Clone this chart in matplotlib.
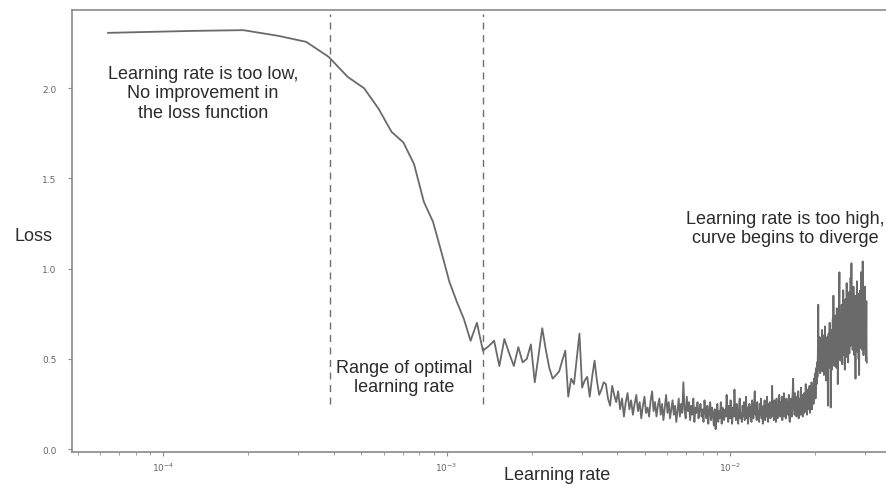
import numpy as np
import matplotlib
matplotlib.use("Agg")
import matplotlib.pyplot as plt

# learning rate grows linearly per batch: lr = lr_step * batch
lr_step = 6.4e-5

# loss per batch
loss = [
    2.307, 2.318, 2.322, 2.29, 2.257, 2.174, 2.063, 2.0, 1.886, 1.758,
    1.70, 1.58, 1.37, 1.26, 1.09, 0.926, 0.815, 0.72, 0.60, 0.70,
    0.545,
    # 22-67
    0.57, 0.60, 0.46, 0.61, 0.53, 0.46, 0.565, 0.48, 0.50, 0.58,
    0.37, 0.52, 0.67, 0.55, 0.45, 0.39, 0.41, 0.43, 0.49, 0.545,
    0.29, 0.39, 0.36, 0.50, 0.64, 0.34, 0.38, 0.40, 0.29, 0.40,
    0.49, 0.38, 0.30, 0.33, 0.37, 0.36, 0.28, 0.24, 0.35, 0.30,
    0.26, 0.32, 0.22, 0.28, 0.18, 0.26,
    # 68-82
    0.31, 0.22, 0.27, 0.19, 0.25, 0.30, 0.21, 0.26, 0.17, 0.24,
    0.29, 0.20, 0.23, 0.18, 0.27,
    # 83-122
    0.32, 0.21, 0.26, 0.18, 0.24, 0.28, 0.19, 0.25, 0.16, 0.23,
    0.30, 0.20, 0.26, 0.17, 0.22, 0.27, 0.19, 0.24, 0.15, 0.21,
    0.28, 0.18, 0.25, 0.20, 0.37, 0.22, 0.17, 0.29, 0.21, 0.26,
    0.16, 0.24, 0.19, 0.28, 0.15, 0.23, 0.20, 0.26, 0.17, 0.22,
    # 123-183
    0.25, 0.18, 0.22, 0.15, 0.27, 0.20, 0.17, 0.24, 0.14, 0.21,
    0.26, 0.16, 0.23, 0.19, 0.13, 0.22, 0.11, 0.20, 0.25, 0.15,
    0.21, 0.17, 0.26, 0.14, 0.23, 0.19, 0.16, 0.22, 0.18, 0.30,
    0.20, 0.15, 0.24, 0.17, 0.27, 0.19, 0.14, 0.23, 0.18, 0.33,
    0.21, 0.16, 0.25, 0.19, 0.14, 0.22, 0.28, 0.17, 0.20, 0.15,
    0.24, 0.18, 0.26, 0.16, 0.21, 0.29, 0.17, 0.23, 0.14, 0.20,
    0.25,
    # 184-234
    0.18, 0.23, 0.15, 0.27, 0.20, 0.17, 0.24, 0.32, 0.19, 0.22,
    0.16, 0.26, 0.18, 0.21, 0.15, 0.25, 0.19, 0.28, 0.17, 0.22,
    0.14, 0.24, 0.20, 0.27, 0.16, 0.23, 0.18, 0.29, 0.21, 0.15,
    0.25, 0.19, 0.26, 0.17, 0.22, 0.18, 0.35, 0.20, 0.24, 0.16,
    0.27, 0.19, 0.23, 0.15, 0.28, 0.21, 0.17, 0.25, 0.19, 0.30,
    0.22,
    # 235-316
    0.18, 0.26, 0.20, 0.29, 0.16, 0.24, 0.21, 0.31, 0.18, 0.25,
    0.22, 0.17, 0.28, 0.20, 0.26, 0.19, 0.23, 0.30, 0.17, 0.15,
    0.24, 0.20, 0.28, 0.18, 0.25, 0.33, 0.39, 0.22, 0.27, 0.19,
    0.31, 0.21, 0.26, 0.18, 0.29, 0.23, 0.20, 0.32, 0.17, 0.25,
    0.22, 0.28, 0.19, 0.34, 0.24, 0.21, 0.30, 0.18, 0.26, 0.23,
    0.31, 0.20, 0.27, 0.24, 0.36, 0.21, 0.28, 0.19, 0.25, 0.33,
    0.22, 0.29, 0.26, 0.35, 0.20, 0.27, 0.31, 0.24, 0.37, 0.22,
    0.30, 0.27, 0.34, 0.25, 0.39, 0.29, 0.33, 0.42, 0.28, 0.38,
    0.45, 0.36,
    # 317-475
    0.48, 0.40, 0.55, 0.80, 0.44, 0.58, 0.47, 0.62, 0.42, 0.53,
    0.60, 0.45, 0.52, 0.66, 0.43, 0.57, 0.49, 0.63, 0.41, 0.55,
    0.50, 0.68, 0.46, 0.59, 0.38, 0.54, 0.62, 0.47, 0.56, 0.24,
    0.52, 0.64, 0.45, 0.58, 0.70, 0.48, 0.55, 0.23, 0.61, 0.50,
    0.66, 0.44, 0.57, 0.72, 0.49, 0.85, 0.53, 0.60, 0.46, 0.68,
    0.55, 0.74, 0.50, 0.62, 0.45, 0.78, 0.57, 0.64, 0.36, 0.59,
    0.70, 0.52, 0.82, 0.98, 0.58, 0.66, 0.49, 0.75, 0.61, 0.54,
    0.80, 0.63, 0.47, 0.71, 0.57, 0.88, 0.52, 0.68, 0.60, 0.76,
    0.44, 0.65, 0.83, 0.58, 0.70, 0.51, 0.92, 0.62, 0.55, 0.74,
    0.66, 0.48, 0.79, 0.60, 0.87, 0.53, 0.71, 0.64, 0.57, 0.95,
    0.62, 0.76, 1.03, 0.58, 0.69, 0.82, 0.55, 0.73, 0.64, 0.90,
    0.60, 0.78, 0.52, 0.68, 0.85, 0.57, 0.39, 0.72, 0.63, 0.80,
    0.58, 0.93, 0.66, 0.54, 0.75, 0.61, 0.86, 0.50, 0.70, 0.41,
    0.64, 0.79, 0.56, 0.88, 0.62, 0.73, 0.98, 0.59, 0.67, 0.81,
    0.55, 0.72, 1.04, 0.61, 0.76, 0.52, 0.68, 0.84, 0.58, 0.74,
    0.63, 0.90, 0.56, 0.70, 0.49, 0.66, 0.82, 0.52, 0.48,
]
lr = lr_step * np.arange(1, len(loss) + 1)

# range of optimal learning rate
lr_bounds = [3.88e-4, 1.34e-3]

yticks = [0.0, 0.5, 1.0, 1.5, 2.0]

fig = plt.figure(figsize=(8.87, 4.89), dpi=100)
ax = fig.add_axes([0.0812, 0.0736, 0.939, 0.904])

ax.plot(lr, loss, color="#6a6a6a", lw=1.3)
ax.vlines(lr_bounds, 0.25, 2.41, colors="#707070", linestyles=(0, (5, 4)), lw=1.0)

ax.set_xscale("log")
ax.set_xlim(10 ** -4.321, 10 ** -1.383)
ax.set_ylim(-0.0166, 2.434)
ax.set_yticks(yticks)
ax.set_yticklabels([f"{v:.1f}" for v in yticks])

for s in ax.spines.values():
    s.set_color("#8a8a8a")
    s.set_linewidth(1.2)
ax.tick_params(axis="both", which="both", colors="#8a8a8a", labelcolor="#666666",
               labelsize=6.5, length=3)
ax.tick_params(axis="y", pad=8)
ax.tick_params(axis="x", which="minor", length=2)

font = "Liberation Sans"
tc = "#2b2b2b"
fig.text(557 / 887, 1 - 476 / 489, "Learning rate", ha="center", va="center",
         fontsize=13, family=font, color=tc)
fig.text(34 / 887, 1 - 237 / 489, "Loss", ha="center", va="center",
         fontsize=13, family=font, color=tc)

fig.text(203 / 887, 1 - 94 / 489, "Learning rate is too low,\nNo improvement in\nthe loss function",
         ha="center", va="center", fontsize=13, family=font, color=tc, multialignment="center")
fig.text(404 / 887, 1 - 378 / 489, "Range of optimal\nlearning rate",
         ha="center", va="center", fontsize=13, family=font, color=tc, multialignment="center")
fig.text(785 / 887, 1 - 229 / 489, "Learning rate is too high,\ncurve begins to diverge",
         ha="center", va="center", fontsize=13, family=font, color=tc, multialignment="center")

fig.savefig("out.png", dpi=100)
